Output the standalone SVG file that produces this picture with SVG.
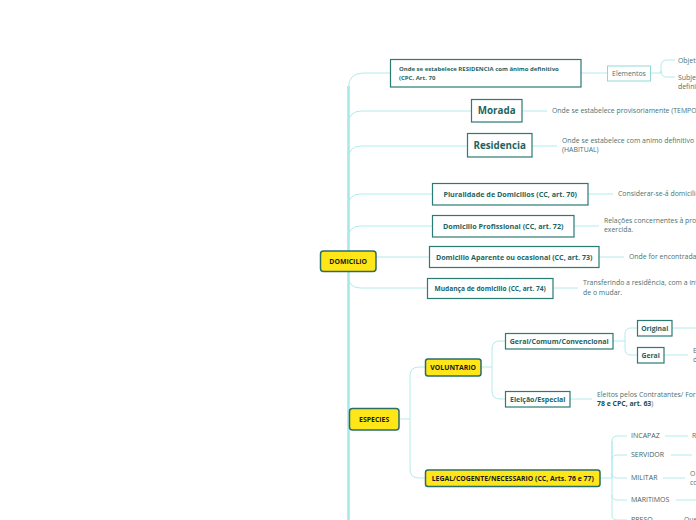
<svg xmlns="http://www.w3.org/2000/svg" width="696" height="520" viewBox="0 0 696 520">
<style>
.bg{fill:#ffffff}
.trunk{fill:none;stroke:#a6e9ea;stroke-width:2.6}
.ln{fill:none;stroke:#b2ebeb;stroke-width:1}
.box{fill:#ffffff;stroke:#2b7b75;stroke-width:1.2}
.lbox{fill:#ffffff;stroke:#8fd9d4;stroke-width:1}
.ybox{fill:#ffe619;stroke:#2a6c67;stroke-width:1.5}
.t{font-family:"Open Sans","Noto Sans","DejaVu Sans",sans-serif;font-weight:bold;fill:#1d655f}
.y{font-family:"Open Sans","Noto Sans","DejaVu Sans",sans-serif;font-weight:bold;fill:#1a1a1a;font-size:6.9px}
.d{font-family:"Open Sans","Noto Sans","DejaVu Sans",sans-serif;fill:#4a7270;font-size:6.9px}
.k{font-family:"Open Sans","Noto Sans","DejaVu Sans",sans-serif;fill:#3f5f5e;font-size:7px}
</style>
<rect class="bg" x="0" y="0" width="696" height="520"/>
<g id="connectors">
<path class="trunk" d="M348.5,86 V520"/>
<path class="ln" d="M348.5,88 Q348.5,73 363.5,73 H390"/>
<path class="ln" d="M348.5,124 Q348.5,111 361.5,111 H471"/>
<path class="ln" d="M348.5,159 Q348.5,146 361.5,146 H467"/>
<path class="ln" d="M348.5,206 Q348.5,194 360.5,194 H432"/>
<path class="ln" d="M348.5,238 Q348.5,226 360.5,226 H432"/>
<path class="ln" d="M376,257 H429"/>
<path class="ln" d="M348.5,276 Q348.5,288 360.5,288 H427"/>
<path class="ln" d="M581,73 H607"/>
<path class="ln" d="M650,73 H661 M661,73 V66 Q661,60 667,60 H675 M661,73 V71 Q661,77 667,77 H675"/>
<path class="ln" d="M522,111 H547"/>
<path class="ln" d="M532,146 H557"/>
<path class="ln" d="M588,194 H613"/>
<path class="ln" d="M574,226 H599"/>
<path class="ln" d="M599,257 H624"/>
<path class="ln" d="M553,288 H578"/>
<path class="ln" d="M399,419 H410 M410,419 V376 Q410,367 419,367 H425 M410,419 V469 Q410,478 419,478 H425"/>
<path class="ln" d="M481,367 H492 M492,367 V349 Q492,341 500,341 H505 M492,367 V391 Q492,399 500,399 H505"/>
<path class="ln" d="M613,341 H625 M625,341 V334 Q625,328 631,328 H637 M625,341 V349 Q625,355 631,355 H637"/>
<path class="ln" d="M672,328 H696"/>
<path class="ln" d="M664,355 H688"/>
<path class="ln" d="M570,399 H592"/>
<path class="ln" d="M600,478 H612 M612,478 V441 Q612,436 617,436 H627 M612,460 Q612,455 617,455 H627 M612,473 Q612,478 617,478 H627 M612,441 V515 Q612,520 617,520 H627 M612,495 Q612,500 617,500 H627"/>
<path class="ln" d="M665,436 H688"/>
<path class="ln" d="M671,455 H692"/>
<path class="ln" d="M663,478 H685"/>
<path class="ln" d="M676,500 H696"/>
</g>
<g id="domicilio">
<rect class="ybox" x="320.5" y="251" width="55.5" height="20.5" rx="3"/>
<text class="y" x="348.2" y="263.8" text-anchor="middle" font-size="7.1">DOMICILIO</text>
</g>
<g id="residencia-definitivo">
<rect class="box" x="390.5" y="59.5" width="190.5" height="27.5"/>
<text class="t" x="399" y="71" font-size="6">Onde se estabelece RESIDENCIA com ânimo definitivo</text>
<text class="t" x="399" y="80" font-size="6">(CPC, Art. 70</text>
</g>
<g id="elementos">
<rect class="lbox" x="607.5" y="66" width="43" height="15"/>
<text class="d" x="629" y="75.8" text-anchor="middle">Elementos</text>
</g>
<g id="objet"><text class="d" x="678" y="62.5">Objetivo</text></g>
<g id="subje"><text class="d" x="678" y="79.5">Subjetivo</text><text class="d" x="678" y="88.5">definitivo</text></g>
<g id="morada">
<rect class="box" x="471.5" y="99.5" width="50.5" height="22.5"/>
<text class="t" x="496.7" y="114.4" text-anchor="middle" font-size="9.8">Morada</text>
</g>
<g id="morada-desc"><text class="d" x="552" y="113.4">Onde se estabelece provisoriamente (TEMPORARIO)</text></g>
<g id="residencia">
<rect class="box" x="467.5" y="133.5" width="64.5" height="23.5"/>
<text class="t" x="499.7" y="148.9" text-anchor="middle" font-size="9.8">Residencia</text>
</g>
<g id="residencia-desc"><text class="d" x="562" y="143.4">Onde se estabelece com animo definitivo</text><text class="d" x="562" y="152.4">(HABITUAL)</text></g>
<g id="pluralidade">
<rect class="box" x="432.5" y="183.5" width="155.5" height="21.5"/>
<text class="t" x="510.2" y="196.8" text-anchor="middle" font-size="7.2">Pluralidade de Domicilios (CC, art. 70)</text>
</g>
<g id="pluralidade-desc"><text class="d" x="618" y="196.4">Considerar-se-á domicilio</text></g>
<g id="profissional">
<rect class="box" x="432.5" y="215.5" width="141.5" height="21.5"/>
<text class="t" x="503.2" y="228.8" text-anchor="middle" font-size="7.2">Domicilio Profissional (CC, art. 72)</text>
</g>
<g id="profissional-desc"><text class="d" x="604" y="223.4">Relações concernentes à profissão</text><text class="d" x="604" y="232.4">exercida.</text></g>
<g id="aparente">
<rect class="box" x="429.5" y="246.5" width="169.5" height="21"/>
<text class="t" x="514.2" y="259.6" text-anchor="middle" font-size="7.1">Domicilio Aparente ou ocasional (CC, art. 73)</text>
</g>
<g id="aparente-desc"><text class="d" x="629" y="259.4">Onde for encontrada</text></g>
<g id="mudanca">
<rect class="box" x="427.5" y="278.5" width="125.5" height="20"/>
<text class="t" x="490.2" y="290.8" text-anchor="middle" font-size="6.6">Mudança de domicilio (CC, art. 74)</text>
</g>
<g id="mudanca-desc"><text class="d" x="583" y="285.4">Transferindo a residência, com a intenção</text><text class="d" x="583" y="295.4">de o mudar.</text></g>
<g id="especies">
<rect class="ybox" x="349.5" y="408.5" width="49.5" height="21.5" rx="3"/>
<text class="y" x="374.2" y="421.7" text-anchor="middle">ESPECIES</text>
</g>
<g id="voluntario">
<rect class="ybox" x="425.5" y="359" width="55.5" height="17" rx="2.5"/>
<text class="y" x="453.2" y="369.9" text-anchor="middle">VOLUNTARIO</text>
</g>
<g id="geral-comum">
<rect class="box" x="505.5" y="333.5" width="107.5" height="15.5"/>
<text class="t" x="559.2" y="343.8" text-anchor="middle" font-size="7">Geral/Comum/Convencional</text>
</g>
<g id="original">
<rect class="box" x="637.5" y="320.5" width="34.5" height="15.5"/>
<text class="t" x="654.7" y="330.8" text-anchor="middle" font-size="6.8">Original</text>
</g>
<g id="geral">
<rect class="box" x="637.5" y="347.5" width="26.5" height="15.5"/>
<text class="t" x="650.7" y="357.8" text-anchor="middle" font-size="6.8">Geral</text>
</g>
<g id="geral-desc"><text class="d" x="693" y="353.4">E</text><text class="d" x="693" y="362.4">d</text></g>
<g id="eleicao">
<rect class="box" x="505.5" y="391.5" width="64.5" height="15.5"/>
<text class="t" x="537.7" y="401.8" text-anchor="middle" font-size="7">Eleição/Especial</text>
</g>
<g id="eleicao-desc"><text class="d" x="597" y="397.4">Eleitos pelos Contratantes/ Foro</text><text class="d" x="597" y="406.4"><tspan font-weight="bold" fill="#1f4f4d">78 e CPC, art. 63</tspan>)</text></g>
<g id="legal">
<rect class="ybox" x="425.5" y="470" width="174.5" height="16.5" rx="2.5"/>
<text class="y" x="512.7" y="480.7" text-anchor="middle" font-size="7">LEGAL/COGENTE/NECESSARIO (CC, Arts. 76 e 77)</text>
</g>
<g id="incapaz"><text class="k" x="631" y="438.4">INCAPAZ</text><text class="d" x="692" y="438.4">R</text></g>
<g id="servidor"><text class="k" x="631" y="457.4">SERVIDOR</text></g>
<g id="militar"><text class="k" x="631" y="480.4">MILITAR</text><text class="d" x="690" y="476.4">O</text><text class="d" x="690" y="485.4">co</text></g>
<g id="maritimos"><text class="k" x="631" y="502.4">MARITIMOS</text></g>
<g id="preso"><text class="k" x="631" y="522.4">PRESO</text><text class="d" x="684" y="522.4">Que</text></g>
</svg>
